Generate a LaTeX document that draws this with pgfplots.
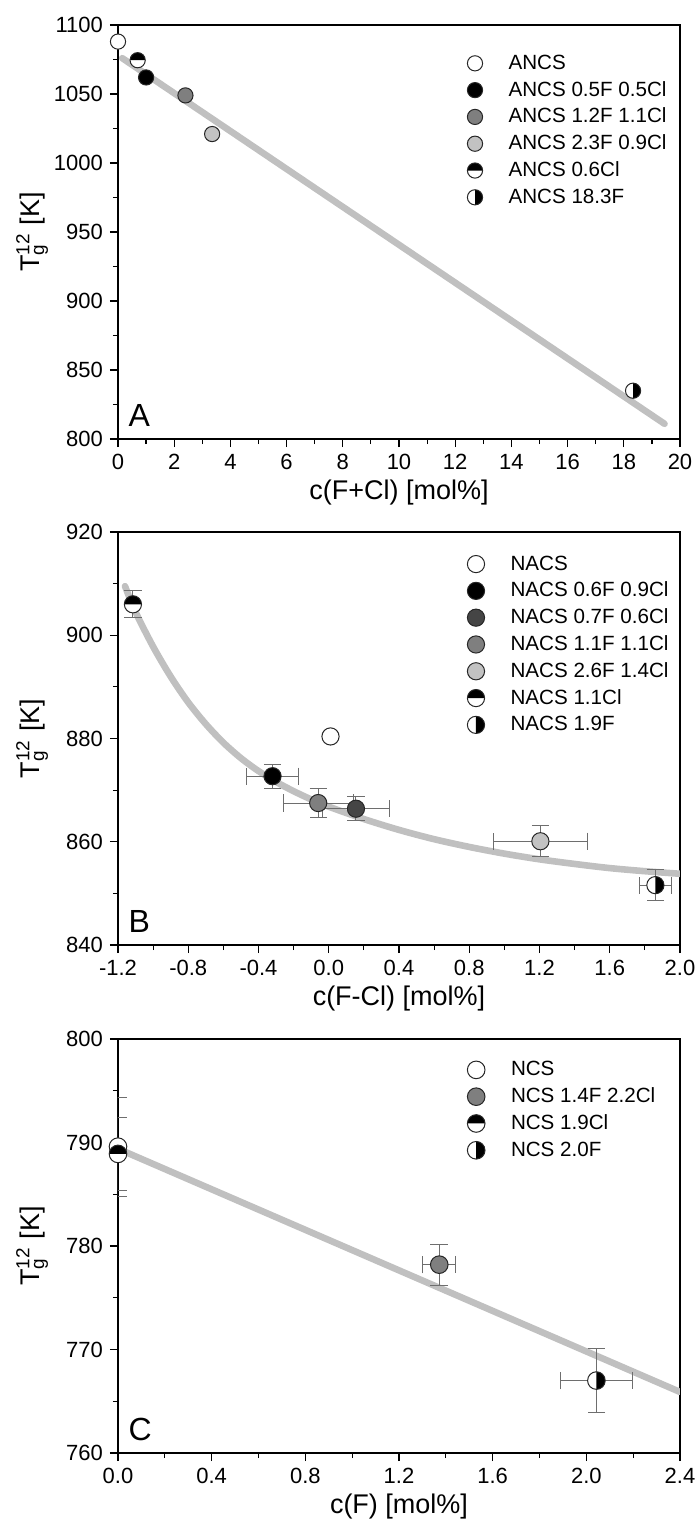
\documentclass[border=0pt]{standalone}
\usepackage{fontspec}
\setmainfont{Liberation Sans}
\usepackage{pgfplots}
\pgfplotsset{compat=1.18}
\definecolor{fitgray}{HTML}{C0C0C0}
\definecolor{lgray}{HTML}{C2C2C2}
\definecolor{mgray}{HTML}{7F7F7F}
\definecolor{dgray}{HTML}{454545}
\definecolor{ebar}{HTML}{6E6E6E}

\pgfdeclareplotmark{htop}{%
  \pgfpathcircle{\pgfpointorigin}{\pgfplotmarksize}%
  \pgfsetfillcolor{white}\pgfusepathqfill
  \pgfpathmoveto{\pgfpoint{\pgfplotmarksize}{0pt}}%
  \pgfpatharc{0}{180}{\pgfplotmarksize}%
  \pgfpathclose
  \pgfsetfillcolor{black}\pgfusepathqfill
  \pgfpathcircle{\pgfpointorigin}{\pgfplotmarksize}%
  \pgfusepathqstroke
}
\pgfdeclareplotmark{hright}{%
  \pgfpathcircle{\pgfpointorigin}{\pgfplotmarksize}%
  \pgfsetfillcolor{white}\pgfusepathqfill
  \pgfpathmoveto{\pgfpoint{0pt}{\pgfplotmarksize}}%
  \pgfpatharc{90}{-90}{\pgfplotmarksize}%
  \pgfpathclose
  \pgfsetfillcolor{black}\pgfusepathqfill
  \pgfpathcircle{\pgfpointorigin}{\pgfplotmarksize}%
  \pgfusepathqstroke
}

\tikzset{letter/.style={anchor=base west, inner sep=0pt, font=\fontsize{16}{18}\selectfont}}

\pgfplotsset{
  panel/.style={
    anchor=south west,
    width=281pt, scale only axis,
    axis line style={line width=0.75pt, black},
    tick pos=left, tick align=outside,
    major tick length=4pt, minor tick length=2.5pt,
    minor tick num=1,
    every tick/.style={black, line width=0.6pt},
    /pgf/number format/assume math mode=true,
    /pgf/number format/1000 sep={},
    ticklabel style={font=\fontsize{11}{13}\selectfont},
    label style={font=\fontsize{13.5}{15}\selectfont},
    xlabel style={at={(axis description cs:0.5,-0.13)}, anchor=center},
    ylabel style={at={(axis description cs:-0.153,0.5)}, anchor=center},
    ylabel={T\rlap{\textsuperscript{12}}\textsubscript{g}\hspace{0.42em} [K]},
    legend cell align=left,
    legend style={draw=none, fill=none, inner sep=0pt,
      anchor=north west,
      font=\fontsize{10.3}{12}\selectfont,
      nodes={inner sep=1pt, text height=7.5pt, text depth=1.5pt},
      row sep=2.4pt, column sep=12pt},
    error bars/error bar style={ebar, line width=0.5pt},
  },
  pt/.style={only marks, mark=*, mark options={draw=black!85, line width=0.5pt, fill=#1}},
  hp/.style={only marks, mark=#1, mark options={draw=black!85, line width=0.5pt}},
  fit/.style={fitgray, line width=3.3pt, line cap=round, forget plot},
  eb/.style={error bars/.cd, x dir=both, x explicit, y dir=both, y explicit},
}

\begin{document}
\begin{tikzpicture}
% ---------------- Panel A ----------------
\begin{axis}[panel, at={(0pt,-219.5pt)}, height=207pt,
  xmin=0, xmax=20, ymin=800, ymax=1100,
  xtick={0,2,...,20}, ytick={800,850,...,1100},
  legend style={at={(rel axis cs:0.621,0.935)}},
  xlabel={c(F+Cl) [mol\%]}, mark size=3.8pt]
\addplot[fit] coordinates {(0.15,1076) (19.45,811)};
\addplot[pt=white] coordinates {(0.0,1088)};
\addlegendentry{ANCS}
\addplot[pt=black] coordinates {(1.0,1062)};
\addlegendentry{ANCS 0.5F 0.5Cl}
\addplot[pt=mgray] coordinates {(2.4,1049)};
\addlegendentry{ANCS 1.2F 1.1Cl}
\addplot[pt=lgray] coordinates {(3.35,1021)};
\addlegendentry{ANCS 2.3F 0.9Cl}
\addplot[hp=htop] coordinates {(0.7,1074.5)};
\addlegendentry{ANCS 0.6Cl}
\addplot[hp=hright] coordinates {(18.33,835)};
\addlegendentry{ANCS 18.3F}
\node[letter] at (rel axis cs:0.018,0.03) {A};
\end{axis}
% ---------------- Panel B ----------------
\begin{axis}[panel, at={(0pt,-472.5pt)}, height=206.5pt,
  xmin=-1.2, xmax=2.0, ymin=840, ymax=920,
  xtick={-1.2,-0.8,-0.4,0,0.4,0.8,1.2,1.6,2.0}, ytick={840,860,...,920},
  x tick label style={/pgf/number format/.cd, fixed, fixed zerofill, precision=1},
  legend style={at={(rel axis cs:0.621,0.95)}},
  xlabel={c(F-Cl) [mol\%]}, mark size=4.3pt]
\addplot[fit, smooth] coordinates {
(-1.16,909.5) (-1.10,904.5) (-1.00,897.8) (-0.90,892.0) (-0.80,887.0)
(-0.70,882.8) (-0.60,879.2) (-0.50,876.2) (-0.40,873.7) (-0.30,871.6)
(-0.20,869.8) (-0.10,868.2) (0.00,866.8) (0.20,864.4) (0.40,862.3)
(0.60,860.5) (0.80,859.0) (1.00,857.7) (1.20,856.6) (1.40,855.7)
(1.60,854.9) (1.80,854.3) (2.00,853.8)};
\addplot[pt=white] coordinates {(0.01,880.4)};
\addlegendentry{NACS}
\addplot[pt=black, eb] coordinates {(-0.32,872.7) +- (0.15,2.3)};
\addlegendentry{NACS 0.6F 0.9Cl}
\addplot[pt=dgray, eb] coordinates {(0.155,866.4) +- (0.19,2.3)};
\addlegendentry{NACS 0.7F 0.6Cl}
\addplot[pt=mgray, eb] coordinates {(-0.06,867.5) +- (0.2,2.8)};
\addlegendentry{NACS 1.1F 1.1Cl}
\addplot[pt=lgray, eb] coordinates {(1.205,860.1) +- (0.27,3.0)};
\addlegendentry{NACS 2.6F 1.4Cl}
\addplot[hp=htop, eb] coordinates {(-1.115,906) +- (0,2.6)};
\addlegendentry{NACS 1.1Cl}
\addplot[hp=hright, eb] coordinates {(1.86,851.6) +- (0.09,3.0)};
\addlegendentry{NACS 1.9F}
\node[letter] at (rel axis cs:0.018,0.03) {B};
\end{axis}
% ---------------- Panel C ----------------
\begin{axis}[panel, at={(0pt,-726.5pt)}, height=207pt,
  xmin=0, xmax=2.4, ymin=760, ymax=800,
  xtick={0,0.4,0.8,1.2,1.6,2.0,2.4}, ytick={760,770,...,800},
  x tick label style={/pgf/number format/.cd, fixed, fixed zerofill, precision=1},
  legend style={at={(rel axis cs:0.621,0.953)}},
  xlabel={c(F) [mol\%]}, mark size=4.4pt]
\addplot[fit] coordinates {(0.02,789.2) (2.4,765.9)};
\addplot[pt=white, eb] coordinates {(0.0,789.6) +- (0,4.8)};
\addlegendentry{NCS}
\addplot[pt=mgray, eb] coordinates {(1.372,778.2) +- (0.07,2.0)};
\addlegendentry{NCS 1.4F 2.2Cl}
\addplot[hp=htop, eb] coordinates {(0.0,788.9) +- (0,3.5)};
\addlegendentry{NCS 1.9Cl}
\addplot[hp=hright, eb] coordinates {(2.043,767.0) +- (0.155,3.1)};
\addlegendentry{NCS 2.0F}
\node[letter] at (rel axis cs:0.018,0.03) {C};
\end{axis}
\pgfresetboundingbox
\path (-59pt,-764pt) rectangle (290.5pt,0pt);
\end{tikzpicture}
\end{document}
